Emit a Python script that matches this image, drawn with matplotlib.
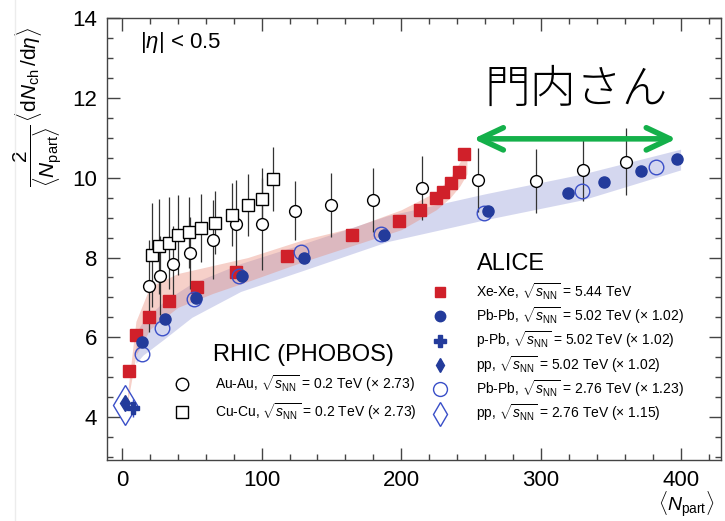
import matplotlib
matplotlib.use("Agg")
import matplotlib.pyplot as plt
from matplotlib.lines import Line2D
from matplotlib.ticker import MultipleLocator

plt.rcParams['font.family'] = ['Liberation Sans', 'DejaVu Sans']
plt.rcParams['mathtext.fontset'] = 'custom'
plt.rcParams['mathtext.rm'] = 'Liberation Sans'
plt.rcParams['mathtext.it'] = 'Liberation Sans:italic'
plt.rcParams['mathtext.bf'] = 'Liberation Sans:bold'

# ALICE, Xe-Xe 5.44 TeV
xe_x = [4.7, 10, 19.5, 33.8, 53.9, 81.6, 118, 164.6, 198.7, 213.5, 224.8, 230, 235.7, 241, 245]
xe_y = [5.16, 6.06, 6.52, 6.92, 7.26, 7.65, 8.05, 8.56, 8.93, 9.2, 9.49, 9.64, 9.87, 10.14, 10.6]

# ALICE, Pb-Pb 5.02 TeV (x 1.02)
pb502_x = [14.7, 30.5, 53, 85.9, 130.7, 187.3, 262.4, 319.7, 345.5, 371.7, 397.3]
pb502_y = [5.87, 6.45, 6.98, 7.54, 7.99, 8.56, 9.18, 9.62, 9.89, 10.18, 10.47]

# ALICE, Pb-Pb 2.76 TeV (x 1.23)
pb276_x = [14.7, 29, 51.3, 83.5, 128, 185.6, 259.3, 329.3, 382.5]
pb276_y = [5.58, 6.23, 6.96, 7.54, 8.14, 8.59, 9.12, 9.66, 10.27]

# small systems
ppb_x = [7.6]
ppb_y = [4.22]
ppb_err = [0.22]
pp502_x = [2.0]
pp502_y = [4.35]
pp276_x = [2.0]
pp276_y = [4.29]

# PHOBOS Au-Au and Cu-Cu 0.2 TeV (x 2.73)
auau_x = [19.7, 27.4, 36.3, 48.6, 65, 81.6, 100.6, 123.8, 149.6, 179.7, 214.7, 254.6, 296.3, 330.4, 361]
auau_y = [7.28, 7.55, 7.83, 8.11, 8.45, 8.85, 8.84, 9.18, 9.32, 9.45, 9.74, 9.95, 9.92, 10.21, 10.41]
auau_err = [1.15, 1.0, 0.95, 0.9, 1.0, 1.1, 1.15, 0.75, 0.8, 0.8, 0.8, 0.8, 0.8, 0.78, 0.85]

cucu_x = [21.5, 26.7, 33.4, 39.8, 47.7, 56.5, 66.8, 78.5, 90.6, 100.6, 107.8]
cucu_y = [8.07, 8.28, 8.36, 8.57, 8.63, 8.74, 8.88, 9.08, 9.31, 9.48, 9.98]
cucu_err = [1.3, 1.2, 1.15, 1.0, 0.9, 0.85, 0.8, 0.78, 0.78, 0.78, 0.8]

# model bands
xe_band_x = [4, 10, 20, 40, 65, 90, 130, 165, 200, 225, 235, 242, 247]
xe_band_lo = [4.35, 5.55, 6.2, 6.75, 7.1, 7.4, 7.9, 8.3, 8.7, 9.2, 9.5, 9.8, 10.1]
xe_band_hi = [4.6, 6.4, 7.27, 7.6, 7.8, 8.0, 8.45, 8.75, 9.2, 9.65, 10.0, 10.4, 10.65]

pb_band_x = [10, 15, 30, 50, 85, 130, 190, 260, 330, 400]
pb_band_lo = [5.35, 5.55, 5.95, 6.5, 7.15, 7.68, 8.4, 8.95, 9.45, 10.2]
pb_band_hi = [6.1, 6.4, 6.9, 7.35, 7.85, 8.35, 9.05, 9.6, 10.1, 10.72]

# arrow span for the annotation
arrow_x = [251.5, 397]
arrow_y = 10.98

red = '#d0202a'
blue = '#233b9b'
blue_open = '#3a4fc8'

fig = plt.figure(figsize=(7.25, 5.21), dpi=100)
ax = fig.add_axes([0.1476, 0.1171, 0.847, 0.8474])

ax.fill_between(pb_band_x, pb_band_lo, pb_band_hi, color='#7f86cf', alpha=0.33, lw=0)
ax.fill_between(xe_band_x, xe_band_lo, xe_band_hi, color='#e98a78', alpha=0.4, lw=0)

ax.errorbar(auau_x, auau_y, yerr=auau_err, fmt='none', ecolor='#333333', elinewidth=0.9, capsize=0)
ax.errorbar(cucu_x, cucu_y, yerr=cucu_err, fmt='none', ecolor='#333333', elinewidth=0.9, capsize=0)
ax.plot(auau_x, auau_y, 'o', ms=8.5, mfc='white', mec='black', mew=1.0, ls='none')
ax.plot(cucu_x, cucu_y, 's', ms=8, mfc='white', mec='black', mew=1.0, ls='none')

ax.plot(xe_x, xe_y, 's', ms=8, color=red, mec=red, ls='none')
ax.plot(pb276_x, pb276_y, 'o', ms=10.5, mfc='none', mec=blue_open, mew=1.0, ls='none')
ax.plot(pb502_x, pb502_y, 'o', ms=8, color=blue, mec=blue, ls='none')

ax.plot(pp276_x, pp276_y, 'd', ms=20, mfc='none', mec=blue_open, mew=1.0, ls='none')
ax.errorbar(ppb_x, ppb_y, yerr=ppb_err, fmt='none', ecolor=blue_open, elinewidth=1.0, capsize=0)
ax.plot(ppb_x, ppb_y, 'P', ms=9, color=blue, mec=blue, ls='none')
ax.plot(pp502_x, pp502_y, 'd', ms=8, color=blue, mec=blue, ls='none')

ax.set_xlim(-10.7, 429)
ax.set_ylim(2.92, 14)
ax.xaxis.set_major_locator(MultipleLocator(100))
ax.xaxis.set_minor_locator(MultipleLocator(20))
ax.yaxis.set_major_locator(MultipleLocator(2))
ax.yaxis.set_minor_locator(MultipleLocator(0.5))
ax.tick_params(which='both', direction='in', top=True, right=True, color='#444444',
               width=1.0, labelsize=16, pad=7)
ax.tick_params(which='major', length=9)
ax.tick_params(which='minor', length=4.5)
for sp in ax.spines.values():
    sp.set_color('#444444')
    sp.set_linewidth(1.0)

ax.set_ylabel(r'$\dfrac{2}{\langle N_{\rm part}\rangle}\,\langle {\rm d}N_{\rm ch}\,/{\rm d}\eta\rangle$',
              fontsize=15, loc='top')
ax.yaxis.set_label_coords(-0.07, 0.98)
ax.set_xlabel(r'$\langle N_{\rm part}\rangle$', fontsize=14, loc='right')
ax.xaxis.set_label_coords(0.99, -0.066)

ax.text(13.1, 13.4, r'|$\eta$| < 0.5', fontsize=16, va='center', ha='left')

# annotation above the central events
ax.annotate('', xy=(arrow_x[1], arrow_y), xytext=(arrow_x[0], arrow_y),
            arrowprops=dict(arrowstyle='<->,head_length=1.7,head_width=0.8',
                            color='#14b04a', lw=4, capstyle='round', joinstyle='round',
                            shrinkA=0, shrinkB=0))
ax.text(325.6, 12.19, '門内さん', fontsize=33, ha='center', va='center',
        family=['Noto Sans CJK JP', 'DejaVu Sans'], fontweight='light')

# legend entries use smaller marker copies
def key(marker, ms, face, edge, mew=1.0):
    return Line2D([], [], marker=marker, ms=ms, mfc=face, mec=edge, mew=mew, ls='none')

sq = r'$\sqrt{s_{\rm NN}}$'
ax.text(254, 7.84, 'ALICE', fontsize=17, ha='left', va='center')
leg1 = ax.legend([key('s', 7, red, red), key('o', 7.5, blue, blue), key('P', 8, blue, blue),
                  key('d', 7, blue, blue), key('o', 10, 'none', blue_open),
                  key('d', 12, 'none', blue_open)],
                 ['Xe-Xe, ' + sq + ' = 5.44 TeV',
                  'Pb-Pb, ' + sq + ' = 5.02 TeV (× 1.02)',
                  'p-Pb, ' + sq + ' = 5.02 TeV (× 1.02)',
                  'pp, ' + sq + ' = 5.02 TeV (× 1.02)',
                  'Pb-Pb, ' + sq + ' = 2.76 TeV (× 1.23)',
                  'pp, ' + sq + ' = 2.76 TeV (× 1.15)'],
                 loc='upper left', bbox_to_anchor=(223, 7.41), bbox_transform=ax.transData,
                 frameon=False, fontsize=10, handlelength=1.0, handletextpad=2.09,
                 labelspacing=0.28, borderpad=0, borderaxespad=0)
ax.add_artist(leg1)

ax.text(65.5, 5.56, 'RHIC (PHOBOS)', fontsize=17, ha='left', va='center')
ax.legend([key('o', 9, 'white', 'black'), key('s', 9, 'white', 'black')],
          ['Au-Au, ' + sq + ' = 0.2 TeV (× 2.73)',
           'Cu-Cu, ' + sq + ' = 0.2 TeV (× 2.73)'],
          loc='upper left', bbox_to_anchor=(38, 5.08), bbox_transform=ax.transData,
          frameon=False, fontsize=10, handlelength=1.0, handletextpad=1.9,
          labelspacing=0.49, borderpad=0, borderaxespad=0)

fig.add_artist(Line2D([15 / 725, 15 / 725], [0, 1], color='#ececec', lw=1))

fig.savefig('out.png', dpi=100)
